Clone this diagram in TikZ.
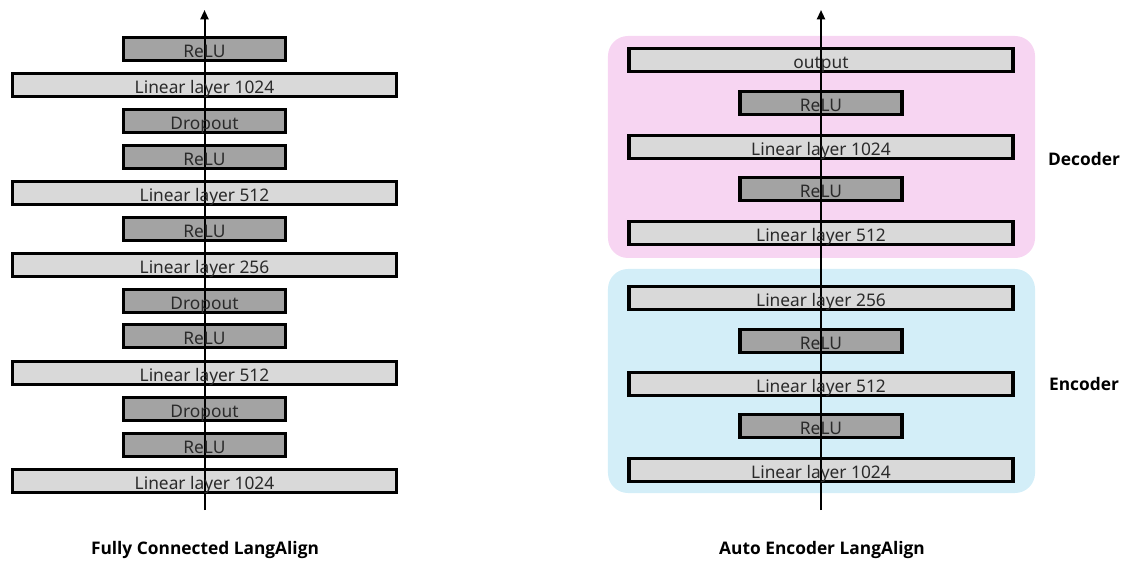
\documentclass[tikz,border=0pt]{standalone}
\usepackage{fontspec}
\setmainfont{Noto Sans}
\newfontfamily\capfont{Open Sans}
\usetikzlibrary{arrows.meta}
\pgfdeclarelayer{back}
\pgfdeclarelayer{bg}
\pgfdeclarelayer{mid}
\pgfsetlayers{back,bg,mid,main}
\definecolor{lightbox}{HTML}{D9D9D9}
\definecolor{darkbox}{HTML}{A3A3A3}
\definecolor{pinkreg}{HTML}{F7D5F2}
\definecolor{bluereg}{HTML}{D3EEF8}
\definecolor{boxtext}{HTML}{2A2A2A}
\begin{document}
\begin{tikzpicture}[x=0.75pt,y=-0.75pt,
  box/.style={draw=black, line width=2.3pt, minimum height=17.25pt, inner sep=0pt,
    text height=13.3pt, text depth=0pt,
    text=boxtext, font=\fontsize{13}{14}\selectfont},
  wide/.style={box, minimum width=288pt},
  narrow/.style={box, minimum width=121.5pt},
  region/.style={rounded corners=15pt, inner sep=0pt},
  conn/.style={line width=1.5pt, -{Triangle[width=6pt,length=7pt]}},
  caption/.style={font=\capfont\bfseries\fontsize{13}{15}\selectfont},
  ]
\useasboundingbox (0,0) rectangle (1130,566);

% ---------- left: Fully Connected ----------
\node[narrow] (l1)  at (204.5,49)  {ReLU};
\node[wide]   (l2)  at (204.5,85)  {Linear layer 1024};
\node[narrow] (l3)  at (204.5,121) {Dropout};
\node[narrow] (l4)  at (204.5,157) {ReLU};
\node[wide]   (l5)  at (204.5,193) {Linear layer 512};
\node[narrow] (l6)  at (204.5,229) {ReLU};
\node[wide]   (l7)  at (204.5,265) {Linear layer 256};
\node[narrow] (l8)  at (204.5,301) {Dropout};
\node[narrow] (l9)  at (204.5,336) {ReLU};
\node[wide]   (l10) at (204.5,373) {Linear layer 512};
\node[narrow] (l11) at (204.5,409) {Dropout};
\node[narrow] (l12) at (204.5,445) {ReLU};
\node[wide]   (l13) at (204.5,481) {Linear layer 1024};
\coordinate (ltop) at (204.5,10);
\coordinate (lbot) at (204.5,510);
\node[caption] (lcap) at (205,550) {Fully Connected LangAlign};

% ---------- right: Auto Encoder ----------
\begin{pgfonlayer}{back}
\node[region, fill=pinkreg, minimum width=320.3pt, minimum height=166.5pt] (dec) at (821.5,147) {};
\node[region, fill=bluereg, minimum width=320.3pt, minimum height=168pt] (enc) at (821.5,381) {};
\end{pgfonlayer}
\node[wide]   (r1)  at (821,60)  {output};
\node[narrow] (r2)  at (821,103) {ReLU};
\node[wide]   (r3)  at (821,147) {Linear layer 1024};
\node[narrow] (r4)  at (821,189) {ReLU};
\node[wide]   (r5)  at (821,233) {Linear layer 512};
\node[wide]   (r6)  at (821,298) {Linear layer 256};
\node[narrow] (r7)  at (821,341) {ReLU};
\node[wide]   (r8)  at (821,384) {Linear layer 512};
\node[narrow] (r9)  at (821,426) {ReLU};
\node[wide]   (r10) at (821,470) {Linear layer 1024};
\coordinate (rtop) at (821,10);
\coordinate (rbot) at (821,510);
\node[caption] (rcap) at (822,550) {Auto Encoder LangAlign};
\node[caption] (declab) at (1084,159) {Decoder};
\node[caption] (enclab) at (1084,384) {Encoder};

% ---------- box fills ----------
\begin{pgfonlayer}{bg}
\foreach \n in {l2,l5,l7,l10,l13,r1,r3,r5,r6,r8,r10}
  \fill[lightbox] (\n.south west) rectangle (\n.north east);
\foreach \n in {l1,l3,l4,l6,l8,l9,l11,l12,r2,r4,r7,r9}
  \fill[darkbox] (\n.south west) rectangle (\n.north east);
\end{pgfonlayer}

% ---------- connectors ----------
\begin{pgfonlayer}{mid}
\draw[conn] (lbot) -- (ltop);
\draw[conn] (rbot) -- (rtop);
\end{pgfonlayer}
\end{tikzpicture}
\end{document}
